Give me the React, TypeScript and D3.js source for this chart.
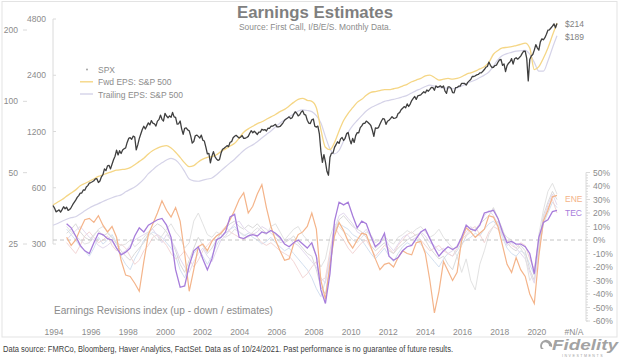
import * as d3 from 'd3';

// S&P 500, monthly, Jan 1994 .. Oct 2021
const spx = [
  482, 467, 446, 451, 457, 444, 458, 475, 463, 472, 454, 459,
  470, 487, 501, 515, 533, 545, 562, 562, 584, 582, 605, 616,
  636, 640, 646, 654, 669, 671, 640, 652, 687, 705, 757, 741,
  786, 791, 757, 801, 848, 885, 954, 899, 947, 915, 955, 970,
  980, 1049, 1102, 1112, 1091, 1134, 1121, 957, 1017, 1099, 1164, 1229,
  1280, 1238, 1286, 1335, 1302, 1373, 1329, 1320, 1283, 1363, 1389, 1469,
  1394, 1366, 1499, 1452, 1421, 1455, 1431, 1518, 1437, 1429, 1315, 1320,
  1366, 1240, 1160, 1249, 1256, 1224, 1211, 1134, 1041, 1060, 1139, 1148,
  1130, 1107, 1147, 1077, 1067, 990, 912, 916, 815, 886, 936, 880,
  856, 841, 848, 917, 964, 975, 990, 1008, 996, 1051, 1058, 1112,
  1131, 1145, 1126, 1107, 1121, 1141, 1102, 1104, 1115, 1130, 1174, 1212,
  1181, 1204, 1181, 1157, 1192, 1191, 1234, 1220, 1229, 1207, 1249, 1248,
  1280, 1281, 1295, 1311, 1270, 1270, 1277, 1304, 1336, 1378, 1401, 1418,
  1438, 1407, 1421, 1482, 1531, 1503, 1455, 1474, 1527, 1549, 1481, 1468,
  1379, 1331, 1323, 1386, 1400, 1280, 1267, 1283, 1165, 940, 820, 903,
  826, 735, 700, 873, 919, 919, 987, 1021, 1057, 1036, 1096, 1115,
  1074, 1104, 1169, 1187, 1089, 1031, 1102, 1049, 1141, 1183, 1181, 1258,
  1286, 1327, 1326, 1364, 1345, 1321, 1292, 1219, 1131, 1253, 1247, 1258,
  1312, 1366, 1408, 1398, 1310, 1362, 1379, 1407, 1441, 1412, 1416, 1426,
  1498, 1515, 1569, 1598, 1631, 1606, 1686, 1633, 1682, 1757, 1806, 1848,
  1783, 1859, 1872, 1884, 1924, 1960, 1931, 2003, 1972, 2018, 2068, 2059,
  1995, 2105, 2068, 2086, 2107, 2063, 2104, 1972, 1920, 2079, 2080, 2044,
  1940, 1932, 2060, 2065, 2097, 2099, 2174, 2171, 2168, 2126, 2199, 2239,
  2279, 2364, 2363, 2384, 2412, 2423, 2470, 2472, 2519, 2575, 2648, 2674,
  2824, 2714, 2641, 2648, 2705, 2718, 2816, 2902, 2914, 2712, 2760, 2507,
  2704, 2784, 2834, 2946, 2752, 2942, 2980, 2926, 2977, 3038, 3141, 3231,
  3226, 2954, 2240, 2912, 3044, 3100, 3271, 3500, 3363, 3270, 3622, 3756,
  3714, 3811, 3973, 4181, 4204, 4298, 4395, 4523, 4308, 4545,
];

// EPS, quarterly, 1994 Q1 .. 2021 Q4
const fwdEps = [
  36.5, 37.5, 38.5, 39.8, 41, 42.3, 44, 45, 46, 47, 48.2, 49,
  49.8, 50.5, 51.2, 51.5, 51.8, 52.5, 54, 55.8, 57.5, 60, 62, 63.5,
  64.5, 65, 63.5, 61, 58, 55, 53, 53.5, 55.5, 57, 58, 58.5,
  59.5, 61.5, 63, 64.8, 66.5, 70, 74, 76.5, 78.5, 80.5, 82, 84,
  86, 88, 90.5, 92.5, 95.5, 99, 102, 103, 101, 100, 94, 76,
  64, 62.5, 67, 75, 83, 89, 94, 99, 102, 106, 109, 110,
  111, 112, 112, 113, 114, 116, 118, 121, 123, 125, 128, 129,
  126, 123, 124, 125, 124, 125, 127, 130, 132, 134, 137, 140,
  146, 158, 164, 168, 169, 170, 172, 174, 176, 168, 136, 140,
  152, 168, 190, 214,
];
const trailEps = [
  30, 30.5, 31.2, 31.8, 32.3, 32.6, 33.5, 34.5, 35.5, 36.3, 37, 37.8,
  38.5, 39.2, 39.8, 40.3, 41.5, 42.5, 43.5, 45, 47, 49.5, 51.5, 53.5,
  55, 56.5, 57.5, 56.5, 54, 50.5, 47, 46.2, 46, 46.5, 47, 47.5,
  49, 51, 53, 55, 57, 59.5, 62, 64, 65.5, 67.5, 70, 72.5,
  75, 78, 81, 83.5, 86, 88.5, 91, 92, 91.5, 90.5, 87, 81,
  71, 63, 60, 62, 68, 74, 79, 83, 87, 91, 94, 96,
  98, 100, 101, 102, 103, 104.5, 106, 108.5, 111, 113, 115.5, 117,
  116, 114.5, 114, 113.5, 113, 114, 116, 118.5, 121, 123, 126, 129,
  133, 141, 150, 156, 159, 161, 163, 163.5, 164, 158, 146, 134,
  134, 148, 168, 189,
];

// revisions index (%), quarterly, 1994 Q4 .. 2021 Q4
const REV_START = 9;
const ene = [
  2,
  -4, 0, 8, 15, 16, 13, 18, 11, 6, 10, 2, -15,
  -26, -27, -32, -38, -16, 4, 12, 20, 29, 22, 17, 24,
  14, -10, -38, -22, -5, -3, -8, -1, 3, 5, 9, 15,
  22, 30, 35, 20, 25, 34, 41, 24, 10, 0, -8, -15,
  -14, -3, 4, 6, 10, 20, 8, -30, -44, -18, 3, 13,
  7, -1, -6, 0, 5, 4, -5, -14, -22, -18, -17, -20,
  -13, -8, -10, -11, -2, -1, -10, -30, -54, -38, -16, -23,
  -30, -24, 0, 9, 6, 2, 5, 8, 18, 17, 10, -4,
  -18, -24, -13, -22, -27, -40, -47, -12, 14, 22, 32, 33,
];
const tec = [
  12,
  9, 3, -4, -8, -10, -2, 5, 4, 1, 0, -6, -11,
  -9, -6, 3, 9, 6, 11, 13, 15, 16, 11, 2, -22,
  -35, -34, -19, -8, -5, -14, -22, -14, 0, 2, 6, 17,
  19, 2, 1, 3, 4, 3, 6, 5, 7, 5, 2, -3,
  -5, -2, 0, -3, -6, -2, -12, -37, -47, -25, 14, 28,
  26, 28, 18, 9, 14, 12, 3, -5, -2, 5, -12, -15,
  -13, -8, -5, -4, 1, 6, 8, 1, -6, -12, -8, -5,
  -7, -5, 2, 11, 8, 7, 11, 20, 21, 22, 16, 6,
  -2, -1, -3, -3, -5, -10, -25, 2, 13, 15, 21, 22,
];
const matRev = [
  5,
  8, 12, 6, 2, 0, 4, 7, 3, 5, 2, -3, -8,
  -12, -15, -10, -6, -2, 5, 9, 12, 10, 6, 0, -8,
  -18, -24, -15, -6, 2, -4, -10, -6, 0, 5, 9, 12,
  14, 10, 8, 11, 9, 12, 8, 5, 7, 4, 1, -2,
  0, 3, -2, -6, -10, -12, -22, -35, -40, -20, 5, 15,
  18, 14, 10, 8, 6, 2, -4, -8, -5, -2, -8, -10,
  -6, -3, 0, 2, 4, 5, 0, -6, -10, -14, -12, -18,
  -22, -12, -4, 3, 6, 8, 12, 15, 18, 24, 16, 8,
  -2, -6, -8, -4, -8, -22, -30, -5, 18, 28, 36, 30,
];
const indRev = [
  8,
  4, 0, -5, -8, -12, -6, 2, -3, 0, 4, -2, -12,
  -18, -22, -14, -8, 0, 3, 6, 4, 2, -2, -6, -12,
  -22, -28, -18, -10, -6, -12, -18, -12, -4, 2, 5, 8,
  10, 6, 3, 5, 2, 0, -3, -1, 2, -2, -5, -8,
  -6, -10, -14, -18, -22, -28, -36, -42, -30, -12, 6, 12,
  10, 8, 4, 2, 0, -5, -10, -14, -10, -6, -12, -16,
  -10, -5, -2, -4, 0, -3, -8, -12, -16, -20, -14, -10,
  -12, -8, -2, 0, 2, 5, 3, 8, 12, 14, 10, 2,
  -6, -10, -12, -8, -10, -18, -26, -8, 12, 20, 28, 24,
];
const finRev = [
  -2,
  -6, -10, -4, 3, 6, 2, -2, 0, 3, -4, -8, -3,
  -6, -12, -18, -15, -8, -4, 2, 4, 0, -4, -10, -14,
  -12, -8, -14, -20, -15, -8, -4, 0, 3, 6, 10, 6,
  4, 2, 0, 3, 5, 2, -2, -4, -2, -5, -8, -10,
  -12, -16, -22, -28, -25, -20, -16, -30, -28, -8, 10, 4,
  0, -6, -10, -6, -2, 0, -6, -12, -8, -4, -6, -10,
  -4, 0, 4, 6, 3, 0, -4, -8, -6, -4, -8, -10,
  -12, -6, 0, 4, 8, 10, 4, -2, 6, 10, 8, 4,
  0, -4, -6, -2, -4, -14, -22, 0, 16, 24, 30, 20,
];
const hlcRev = [
  10,
  6, 3, 0, -3, -2, 3, 8, 10, 6, 2, -2, -4,
  -3, 0, -5, -2, 2, 6, 4, 0, 3, 8, 12, 6,
  2, -6, -2, 14, 20, 12, 4, 2, 6, 4, 2, 4,
  8, 6, 4, 2, 6, 9, 6, 4, 10, 12, 6, 0,
  4, 8, 10, 4, 0, -4, -12, -20, -14, 2, 12, 10,
  6, 4, 0, -2, 2, 6, 4, -2, 0, 3, -1, -3,
  2, 4, 7, 5, 8, 10, 6, 2, 4, 8, 2, -2,
  -6, -12, -24, -14, -30, -37, -18, -8, 4, 10, 14, 6,
  2, 0, -4, -6, -12, -30, -24, 4, 22, 36, 42, 34,
];
const cndRev = [
  0,
  4, 7, 10, 6, 2, 0, -4, -6, -4, -1, -6, -10,
  -8, -4, 0, 2, 4, 6, 8, 3, -2, 4, 0, -6,
  -14, -20, -24, -16, -10, -6, -12, -16, -8, 0, 3, 8,
  12, 14, 9, 6, 4, 6, 10, 8, 5, 2, -2, -1,
  1, -2, -4, -8, -12, -16, -20, -28, -32, -14, 8, 18,
  20, 16, 12, 6, 4, 8, 2, -6, -3, 2, -4, -8,
  -3, 2, 4, 0, 2, 6, 3, -2, -4, -8, -6, -10,
  -8, -4, 2, 6, 10, 6, 12, 18, 22, 18, 12, 4,
  -4, -2, -6, -10, -14, -24, -32, -10, 14, 26, 34, 26,
];

const epsTicks = [25, 50, 100, 200];
const spxTicks = [300, 600, 1200, 2400, 4800];
const pctTicks = [50, 40, 30, 20, 10, 0, -10, -20, -30, -40, -50, -60];
const yearTicks = [1994, 1996, 1998, 2000, 2002, 2004, 2006, 2008, 2010, 2012, 2014, 2016, 2018, 2020];

const FONT = '"Liberation Sans", Arial, Helvetica, sans-serif';
const AXIS_TEXT = '#8c8c8c';
const AXIS_LINE = '#dadada';
const GOLD = '#f5d685';
const LAVENDER = '#d5d3e8';
const ORANGE = '#f4b48a';
const PURPLE = '#a77ddb';

export default function App() {
  const x = d3.scaleLinear().domain([0, spx.length - 1]).range([53, 557]);
  const xLabel = d3.scaleLinear().domain([1994, 2022]).range([54, 574]);
  const yEps = d3.scaleLog().domain([25, 200]).range([244, 30]);
  const ySpx = d3.scaleLog().domain([300, 4800]).range([244, 19]);
  const yPct = d3.scaleLinear().domain([-60, 50]).range([321, 172.5]);

  const spxLine = d3.line<number>().x((_, i) => x(i)).y((d) => ySpx(d));
  const epsLine = d3
    .line<number>()
    .x((_, i) => x(i * 3))
    .y((d) => yEps(d))
    .curve(d3.curveMonotoneX);
  const revLine = d3
    .line<number>()
    .x((_, i) => x(REV_START + i * 3))
    .y((d) => yPct(d));

  const faint = [
    { data: indRev, color: '#d3e0f0' },
    { data: finRev, color: '#f3d6d6' },
    { data: matRev, color: '#dadada' },
    { data: cndRev, color: '#e3d9ee' },
    { data: hlcRev, color: '#e2e2e2' },
  ];

  const minorPct = d3.range(-60, 51, 2);
  const x0 = x.range()[0];

  return (
    <svg
      width={624}
      height={360}
      style={{ position: 'fixed', left: 0, top: 0, background: '#fff' }}
      fontFamily={FONT}
    >
      <rect x={2} y={1.5} width={615} height={335.5} fill="none" stroke="#e3e3e3" />

      {/* title */}
      <text x={315} y={18} textAnchor="middle" fontSize={17} fontWeight="bold" fill="#7f7f7f"
        textLength={156} lengthAdjust="spacingAndGlyphs">Earnings Estimates</text>
      <text x={315} y={30} textAnchor="middle" fontSize={8.5} fill="#8c8c8c"
        textLength={152} lengthAdjust="spacingAndGlyphs">Source: First Call, I/B/E/S. Monthly Data.</text>

      {/* EPS axis (far left) */}
      {epsTicks.map((t) => (
        <g key={'e' + t}>
          <text x={18} y={yEps(t) + 3} textAnchor="end" fontSize={8.5} fill={AXIS_TEXT}>{t}</text>
          <line x1={23} x2={27} y1={yEps(t)} y2={yEps(t)} stroke={AXIS_LINE} />
        </g>
      ))}

      {/* SPX axis */}
      <line x1={x0} x2={x0} y1={ySpx(4800)} y2={ySpx(300)} stroke={AXIS_LINE} />
      {spxTicks.map((t) => (
        <g key={'s' + t}>
          <text x={46} y={ySpx(t) + 3} textAnchor="end" fontSize={8.5} fill={AXIS_TEXT}>{t}</text>
          <line x1={x0} x2={x0 + 3} y1={ySpx(t)} y2={ySpx(t)} stroke={AXIS_LINE} />
        </g>
      ))}

      {/* revisions axis (right) */}
      <line x1={586} x2={586} y1={yPct(50)} y2={yPct(-60)} stroke={AXIS_LINE} />
      {minorPct.map((t) => (
        <line key={'m' + t} x1={586} x2={588} y1={yPct(t)} y2={yPct(t)} stroke={AXIS_LINE} />
      ))}
      {pctTicks.map((t) => (
        <g key={'p' + t}>
          <line x1={586} x2={590} y1={yPct(t)} y2={yPct(t)} stroke={AXIS_LINE} />
          <text x={593} y={yPct(t) + 3} fontSize={8.5} fill={AXIS_TEXT}>{t}%</text>
        </g>
      ))}

      {/* x labels */}
      {yearTicks.map((t) => (
        <text key={'y' + t} x={xLabel(t)} y={335} textAnchor="middle" fontSize={8.5} fill={AXIS_TEXT}>{t}</text>
      ))}
      <text x={xLabel(2022)} y={335} textAnchor="middle" fontSize={8.5} fill={AXIS_TEXT}>#N/A</text>

      {/* revisions */}
      {faint.map((f, i) => (
        <path key={'f' + i} d={revLine(f.data) ?? ''} fill="none" stroke={f.color} strokeWidth={1} />
      ))}
      <line x1={x0} x2={586} y1={yPct(0)} y2={yPct(0)} stroke="#c4c4c4" strokeDasharray="4,3" />
      <path d={revLine(ene) ?? ''} fill="none" stroke={ORANGE} strokeWidth={1.2} />
      <path d={revLine(tec) ?? ''} fill="none" stroke={PURPLE} strokeWidth={1.3} />

      {/* EPS and SPX */}
      <path d={epsLine(trailEps) ?? ''} fill="none" stroke={LAVENDER} strokeWidth={1.2} />
      <path d={epsLine(fwdEps) ?? ''} fill="none" stroke={GOLD} strokeWidth={1.3} />
      <path d={spxLine(spx) ?? ''} fill="none" stroke="#3f3f3f" strokeWidth={1.3} strokeLinejoin="round" />

      {/* end labels */}
      <text x={565} y={27} fontSize={8.5} fill="#7f7f7f">$214</text>
      <text x={565} y={40} fontSize={8.5} fill="#7f7f7f">$189</text>
      <text x={565} y={202} fontSize={8.5} fill={ORANGE}>ENE</text>
      <text x={565} y={216} fontSize={8.5} fill={PURPLE}>TEC</text>

      {/* legend */}
      <circle cx={87} cy={69.5} r={0.9} fill="#9a9a9a" />
      <text x={98} y={72.5} fontSize={8.5} fill="#8c8c8c">SPX</text>
      <line x1={80} x2={93} y1={81.8} y2={81.8} stroke={GOLD} strokeWidth={1.4} />
      <text x={98} y={85} fontSize={8.5} fill="#8c8c8c">Fwd EPS: S&amp;P 500</text>
      <line x1={80} x2={93} y1={94} y2={94} stroke={LAVENDER} strokeWidth={1.4} />
      <text x={98} y={97.5} fontSize={8.5} fill="#8c8c8c">Trailing EPS: S&amp;P 500</text>

      <text x={54} y={314} fontSize={11} fill="#8c8c8c" textLength={219} lengthAdjust="spacingAndGlyphs">
        Earnings Revisions index (up - down / estimates)
      </text>

      {/* footer */}
      <text x={3} y={351.5} fontSize={8.5} fill="#404040" textLength={450} lengthAdjust="spacingAndGlyphs">
        Data source: FMRCo, Bloomberg, Haver Analytics, FactSet. Data as of 10/24/2021. Past performance is no guarantee of future results.
      </text>

      {/* logo */}
      <g fill="#a3a3a3">
        <path d="M541 349 A6 6 0 1 1 552 347 L549 346 A3.5 3.5 0 1 0 544 349 Z" />
        <text x={552} y={350} fontSize={15} fontWeight="bold" fontStyle="italic"
          textLength={66} lengthAdjust="spacingAndGlyphs">Fidelity</text>
        <text x={562} y={356.5} fontSize={3.6} letterSpacing={1.5}>INVESTMENTS</text>
      </g>
    </svg>
  );
}
